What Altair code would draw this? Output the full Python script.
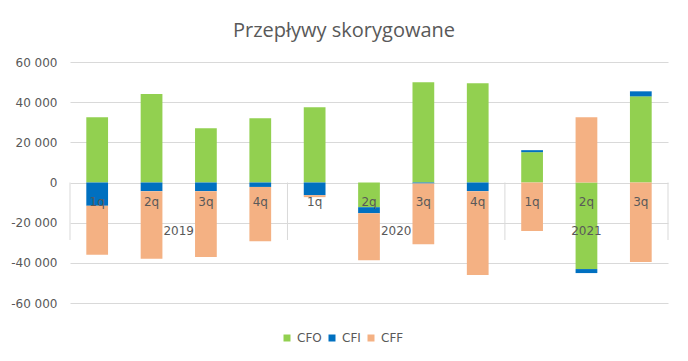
import altair as alt
import pandas as pd

years = ["2019"] * 4 + ["2020"] * 4 + ["2021"] * 3
quarters = ["1q", "2q", "3q", "4q", "1q", "2q", "3q", "4q", "1q", "2q", "3q"]
cfo = [32500, 44100, 27000, 32000, 37500, -12300, 49900, 49400, 15100, -43100, 42900]
cfi = [-11600, -4300, -4300, -2200, -6300, -3000, -500, -4300, 1000, -2000, 2500]
cff = [-24400, -33700, -32800, -27000, -1000, -23400, -30200, -41800, -24200, 32500, -39600]
series = ["CFO", "CFI", "CFF"]
colors = ["#92D050", "#0070C0", "#F4B183"]
title_text = "Przepływy skorygowane"

keys = [f"{y} {q}" for y, q in zip(years, quarters)]

rows = []
for i, k in enumerate(keys):
    for j, (s, vals) in enumerate(zip(series, [cfo, cfi, cff])):
        rows.append({"key": k, "series": s, "value": vals[i], "ord": j})
df = pd.DataFrame(rows)

qdf = pd.DataFrame({"key": keys, "q": quarters})

idx = pd.DataFrame({"year": years, "i": range(len(years))})
ydf = idx.groupby("year", as_index=False)["i"].mean().rename(columns={"i": "center"})
bounds = idx.groupby("year")["i"].agg(["min", "max"])
seps = sorted(set([b - 0.5 for b in bounds["min"]] + [b + 0.5 for b in bounds["max"]]))
sdf = pd.DataFrame({"pos": seps})

FONT = "DejaVu Sans"
GREY = "#595959"

band = alt.Scale(domain=keys, paddingInner=0.6, paddingOuter=0.3)
lin = alt.Scale(domain=[-0.5, len(keys) - 0.5], nice=False, zero=False)

label_expr = "replace(replace(format(datum.value, ','), ',', ' '), '\u2212', '-')"

bars = alt.Chart(df).mark_bar().encode(
    x=alt.X("key:N", sort=keys, scale=band, axis=None),
    y=alt.Y(
        "value:Q",
        stack="zero",
        scale=alt.Scale(domain=[-60000, 60000], nice=False),
        axis=alt.Axis(
            values=list(range(-60000, 60001, 20000)),
            labelExpr=label_expr,
            grid=True,
            gridColor="#d9d9d9",
            domain=False,
            ticks=False,
            labelPadding=13,
            labelFont=FONT,
            labelFontSize=12,
            labelColor=GREY,
            title=None,
        ),
    ),
    color=alt.Color(
        "series:N",
        scale=alt.Scale(domain=series, range=colors),
        legend=alt.Legend(
            title=None,
            orient="none",
            legendX=211,
            legendY=270,
            direction="horizontal",
            symbolType="square",
            symbolSize=49,
            symbolStrokeWidth=0,
            labelFont=FONT,
            labelFontSize=12,
            labelColor=GREY,
            columnPadding=4,
            labelOffset=4,
        ),
    ),
    order=alt.Order("ord:Q"),
)

sep_rules = alt.Chart(sdf).mark_rule(color="#d9d9d9", strokeWidth=1).encode(
    x=alt.X("pos:Q", scale=lin, axis=None),
    y=alt.datum(0),
    y2=alt.value(178),
)

qlabels = alt.Chart(qdf).mark_text(
    font=FONT, fontSize=12, color=GREY, dy=19.5, baseline="middle"
).encode(
    x=alt.X("key:N", sort=keys, scale=band, axis=None),
    y=alt.datum(0),
    text="q:N",
)

ylabels = alt.Chart(ydf).mark_text(
    font=FONT, fontSize=12, color=GREY, dy=48, baseline="middle"
).encode(
    x=alt.X("center:Q", scale=lin, axis=None),
    y=alt.datum(0),
    text="year:N",
)

chart = (
    alt.layer(bars, sep_rules, qlabels, ylabels)
    .resolve_scale(x="independent")
    .properties(
        width=598,
        height=241,
        padding={"left": 62, "top": 54, "right": 12, "bottom": 50},
        autosize=alt.AutoSizeParams(type="none"),
        title=alt.TitleParams(
            title_text,
            font="Open Sans",
            fontSize=20,
            fontWeight="normal",
            color=GREY,
            anchor="middle",
            dx=-25,
            offset=15,
        ),
    )
    .configure_view(stroke=None)
)

chart.save("out.html", embed_options={"renderer": "svg", "actions": False})
